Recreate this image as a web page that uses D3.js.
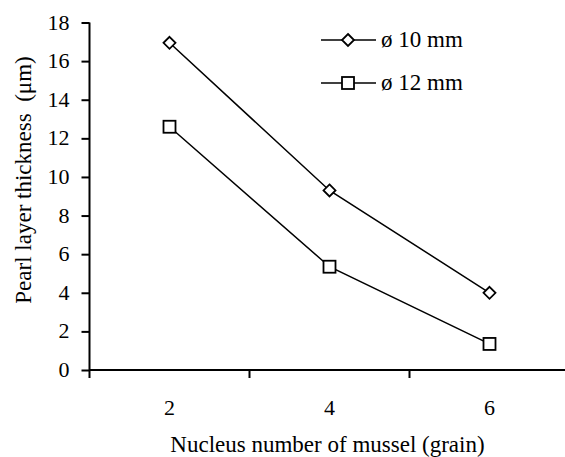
<!DOCTYPE html>
<html><head><meta charset="utf-8">
<script src="https://cdn.jsdelivr.net/npm/d3@7"></script>
<style>
body{margin:0;background:#fff;}
svg text{font-family:'Liberation Serif','Times New Roman',Times,serif !important;fill:#000;}
</style></head>
<body><svg id="c" width="565" height="457"></svg>
<script>
const categories = [2, 4, 6];
const series10 = [16.95, 9.3, 4.0];
const series12 = [12.6, 5.35, 1.35];
const seriesNames = ["ø 10 mm", "ø 12 mm"];
const yTicks = [0, 2, 4, 6, 8, 10, 12, 14, 16, 18];
const FONT = "'Liberation Serif', 'Times New Roman', Times, serif";

const svg = d3.select("#c");
const x = d3.scaleBand().domain(categories).range([89.5, 569.5]);
const y = d3.scaleLinear().domain([0, 18]).range([370, 22.5]);

// y axis
const yAx = svg.append("g").attr("transform", "translate(89.5,0)")
  .call(d3.axisLeft(y).tickValues(yTicks).tickSize(8).tickPadding(12));
yAx.select(".domain").remove();
yAx.selectAll(".tick line").attr("stroke", "#000").attr("stroke-width", 2);
yAx.selectAll(".tick text").attr("dy", "0.3em").style("font-family", FONT).style("font-size", "22px");
svg.append("line").attr("x1", 89.5).attr("x2", 89.5).attr("y1", y(18)).attr("y2", 378)
  .attr("stroke", "#000").attr("stroke-width", 2);

// x axis
svg.append("line").attr("x1", 89.5).attr("x2", 565).attr("y1", 370).attr("y2", 370)
  .attr("stroke", "#000").attr("stroke-width", 2);
const bounds = categories.map(c => x(c) + x.bandwidth());
svg.selectAll(".xb").data(bounds).enter().append("line")
  .attr("x1", d => d).attr("x2", d => d).attr("y1", 370).attr("y2", 378)
  .attr("stroke", "#000").attr("stroke-width", 2);
svg.selectAll(".xl").data(categories).enter().append("text")
  .attr("x", d => x(d) + x.bandwidth() / 2).attr("y", 415)
  .attr("text-anchor", "middle").style("font-family", FONT).style("font-size", "22px").text(d => d);

// lines
const line = d3.line().x((d, i) => x(categories[i]) + x.bandwidth() / 2).y(d => y(d));
[series10, series12].forEach(s => {
  svg.append("path").datum(s).attr("d", line).attr("fill", "none")
    .attr("stroke", "#000").attr("stroke-width", 1.5);
});
function diamond(g, cx, cy) {
  g.append("path").attr("d", `M${cx},${cy-6}L${cx+6},${cy}L${cx},${cy+6}L${cx-6},${cy}Z`)
    .attr("fill", "#fff").attr("stroke", "#000").attr("stroke-width", 1.8);
}
function square(g, cx, cy) {
  g.append("rect").attr("x", cx - 6).attr("y", cy - 6).attr("width", 12).attr("height", 12)
    .attr("fill", "#fff").attr("stroke", "#000").attr("stroke-width", 1.8);
}
series10.forEach((v, i) => diamond(svg, x(categories[i]) + x.bandwidth() / 2, y(v)));
series12.forEach((v, i) => square(svg, x(categories[i]) + x.bandwidth() / 2, y(v)));

// legend
const legY = [40, 83];
[diamond, square].forEach((f, i) => {
  svg.append("line").attr("x1", 321).attr("x2", 376).attr("y1", legY[i]).attr("y2", legY[i])
    .attr("stroke", "#000").attr("stroke-width", 1.5);
  f(svg, 348, legY[i]);
  svg.append("text").attr("x", 381).attr("y", legY[i] + 7)
    .style("font-family", FONT).style("font-size", "23px").text(seriesNames[i]);
});

// axis titles
svg.append("text").attr("transform", "translate(31,180) rotate(-90)")
  .attr("text-anchor", "middle").style("font-family", FONT).style("font-size", "23px")
  .style("white-space", "pre")
  .text("Pearl layer thickness  (μm)");
svg.append("text").attr("x", 327.5).attr("y", 452).attr("text-anchor", "middle")
  .style("font-family", FONT).style("font-size", "23px").text("Nucleus number of mussel (grain)");
</script></body></html>
